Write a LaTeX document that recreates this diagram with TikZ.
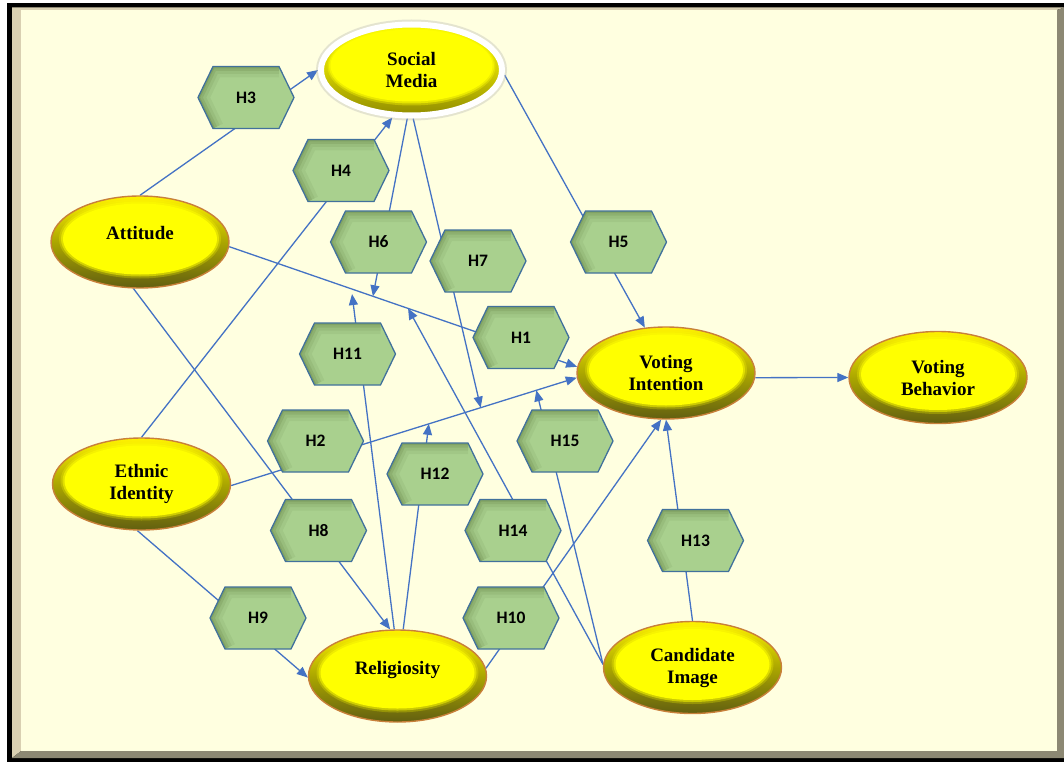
\documentclass[tikz,border=0pt]{standalone}
\usepackage{fontspec}
\setmainfont{Liberation Serif}
\newfontfamily\ovalfont{Liberation Serif}
\newfontfamily\hexfont{Carlito}
\usetikzlibrary{shapes.geometric,arrows.meta,calc}

\definecolor{paper}{HTML}{FFFFE0}
\definecolor{framelight}{HTML}{D9D0B2}
\definecolor{framedark}{HTML}{8C8873}
\definecolor{linkblue}{HTML}{4472C4}
\definecolor{hexfill}{HTML}{A9D08E}
\definecolor{hexshade}{HTML}{3E5A20}
\definecolor{hexline}{HTML}{41719C}
\definecolor{ovalline}{HTML}{C8803A}
\definecolor{ovaltop}{HTML}{FFF300}
\definecolor{ovalmid}{HTML}{ABA600}
\definecolor{ovalbot}{HTML}{625F10}
\definecolor{ovalcore}{HTML}{FFFF00}
\definecolor{smtop}{HTML}{F6F600}
\definecolor{smmid}{HTML}{D6D200}
\definecolor{smbot}{HTML}{908C00}

\pgfdeclarelayer{frame}
\pgfdeclarelayer{links}
\pgfsetlayers{frame,links,main}

\tikzset{
  construct/.style={ellipse, minimum width=178pt, minimum height=92pt,
    inner sep=0pt, draw=ovalline, line width=1.4pt,
    top color=ovaltop, bottom color=ovalbot, middle color=ovalmid,
    align=center, font=\ovalfont\fontsize{19}{22}\selectfont\bfseries,
    path picture={
      \foreach \ovx/\ovy/\ovu/\ovo in {81/39.5/3/0.25, 79/37.5/3/0.5, 77/35.5/3/1}
        \fill[ovalcore, opacity=\ovo] ([yshift=\ovu pt]path picture bounding box.center)
          ellipse [x radius=\ovx pt, y radius=\ovy pt];
    }},
  media/.style={ellipse, minimum width=181pt, minimum height=91pt,
    inner sep=0pt, draw=white, line width=6pt,
    preaction={draw=black!30, line width=10pt, opacity=0.35},
    top color=smtop, bottom color=smbot, middle color=smmid,
    align=center, font=\ovalfont\fontsize{19}{22}\selectfont\bfseries,
    path picture={
      \foreach \ovx/\ovy/\ovu/\ovo in {84/39/3.5/0.35, 82.5/37.5/4/0.6, 81/36/4.5/1}
        \fill[ovalcore, opacity=\ovo] ([yshift=\ovu pt]path picture bounding box.center)
          ellipse [x radius=\ovx pt, y radius=\ovy pt];
    }},
  % hexagon drawn inside a slightly larger invisible box
  hyp/.style={rectangle, minimum width=100pt, minimum height=66pt,
    inner sep=0pt, draw=none,
    font=\hexfont\fontsize{17.5}{20}\selectfont\bfseries,
    path picture={
      \coordinate (hexc) at (path picture bounding box.center);
      \fill[hexfill] (hexc) ++(-48pt,0pt) -- ++(15pt,31pt) -- ++(66pt,0pt)
        -- ++(15pt,-31pt) -- ++(-15pt,-31pt) -- ++(-66pt,0pt) -- cycle;
      \begin{scope}
        \clip (hexc) ++(-48pt,0pt) -- ++(15pt,31pt) -- ++(66pt,0pt)
          -- ++(15pt,-31pt) -- ++(-15pt,-31pt) -- ++(-66pt,0pt) -- cycle;
        \foreach \hw/\ho in {22/0.07, 15/0.09, 9/0.12, 4/0.16}
          \draw[hexshade, line width=\hw pt, opacity=\ho, line join=round]
            (hexc) ++(-33pt,-31pt) -- ++(-15pt,31pt) -- ++(15pt,31pt) -- ++(66pt,0pt);
      \end{scope}
      \draw[hexline, line width=1.3pt] (hexc) ++(-48pt,0pt) -- ++(15pt,31pt) -- ++(66pt,0pt)
        -- ++(15pt,-31pt) -- ++(-15pt,-31pt) -- ++(-66pt,0pt) -- cycle;
    }},
  link/.style={draw=linkblue, line width=1.3pt, -{Triangle[length=11pt,width=9pt]}}
}

\begin{document}
\begin{tikzpicture}[x=1pt, y=-1pt]
\useasboundingbox (0,0) rectangle (1064,762);

% bevelled frame and paper
\begin{pgfonlayer}{frame}
  \fill[white] (0,0) rectangle (1064,762);
  \fill[black] (7,3) rectangle (1064,762);
  \fill[framelight] (12,7.5) -- (1064,7.5) -- (1057,10) -- (21,10) -- (21,751) -- (12,758) -- cycle;
  \fill[framedark] (1064,7.5) -- (1064,758) -- (12,758) -- (21,751) -- (1057,751) -- (1057,10) -- cycle;
  \fill[paper] (21,10) rectangle (1057,751);
\end{pgfonlayer}

% constructs
\node[media] (soc) at (411.5,70) {Social\\Media};
\node[construct] (att) at (140,242) {\raisebox{2.5pt}[0pt][0pt]{Attitude}};
\node[construct] (eth) at (141.5,484) {Ethnic\\Identity};
\node[construct] (rel) at (397.5,676) {\raisebox{2pt}[0pt][0pt]{Religiosity}};
\node[construct] (vi) at (666,373) {Voting\\Intention};
\node[construct] (vb) at (938,377.5) {Voting\\Behavior};
\node[construct] (ci) at (692.5,667.5) {Candidate\\Image};

% hypotheses
\node[hyp] (h3) at (246,97.5) {H3};
\node[hyp] (h4) at (341,170.5) {H4};
\node[hyp] (h6) at (378.5,242) {H6};
\node[hyp] (h7) at (478,261) {H7};
\node[hyp] (h5) at (618.5,242) {H5};
\node[hyp] (h1) at (521,337.5) {H1};
\node[hyp] (h11) at (347.5,354) {H11};
\node[hyp] (h2) at (315.5,441) {H2};
\node[hyp] (h12) at (435,474) {H12};
\node[hyp] (h15) at (565,441) {H15};
\node[hyp] (h8) at (318.5,530.5) {H8};
\node[hyp] (h14) at (513,530.5) {H14};
\node[hyp] (h9) at (258,618) {H9};
\node[hyp] (h10) at (511,618) {H10};
\node[hyp] (h13) at (695.5,540.5) {H13};

% points where moderating paths meet the direct paths
\coordinate (m6) at ($(att.-3)!0.413!(vi.176)$);
\coordinate (m11) at ($(att.-3)!0.353!(vi.176)+(0,5)$);
\coordinate (m14) at ($(att.-3)!0.514!(vi.176)$);
\coordinate (m7) at ($(eth.-1)!0.722!(vi.183)$);
\coordinate (m12) at ($(eth.-1)!0.572!(vi.183)$);
\coordinate (m15) at ($(eth.-1)!0.883!(vi.183)$);

% paths
\begin{pgfonlayer}{links}
  \draw[link] (att.north) -- (soc.west);
  \draw[link] (eth.north) -- (soc.248);
  \draw[link] (soc.-3) -- (vi.115);
  \draw[link] (soc.265) -- (m6);
  \draw[link] (soc.272) -- (m7);
  \draw[link] (att.-3) -- (vi.176);
  \draw[link] (eth.-1) -- (vi.183);
  \draw[link] (att.262) -- (rel.99);
  \draw[link] (eth.265) -- (rel.181);
  \draw[link] (rel.5) -- (vi.264);
  \draw[link] (rel.94) -- (m11);
  \draw[link] (rel.83) -- (m12);
  \draw[link] (ci.north) -- (vi.south);
  \draw[link] (ci.178) -- (m14);
  \draw[link] (ci.178) -- (m15);
  \draw[link] (vi.-3) -- (vb.west);
\end{pgfonlayer}
\end{tikzpicture}
\end{document}
